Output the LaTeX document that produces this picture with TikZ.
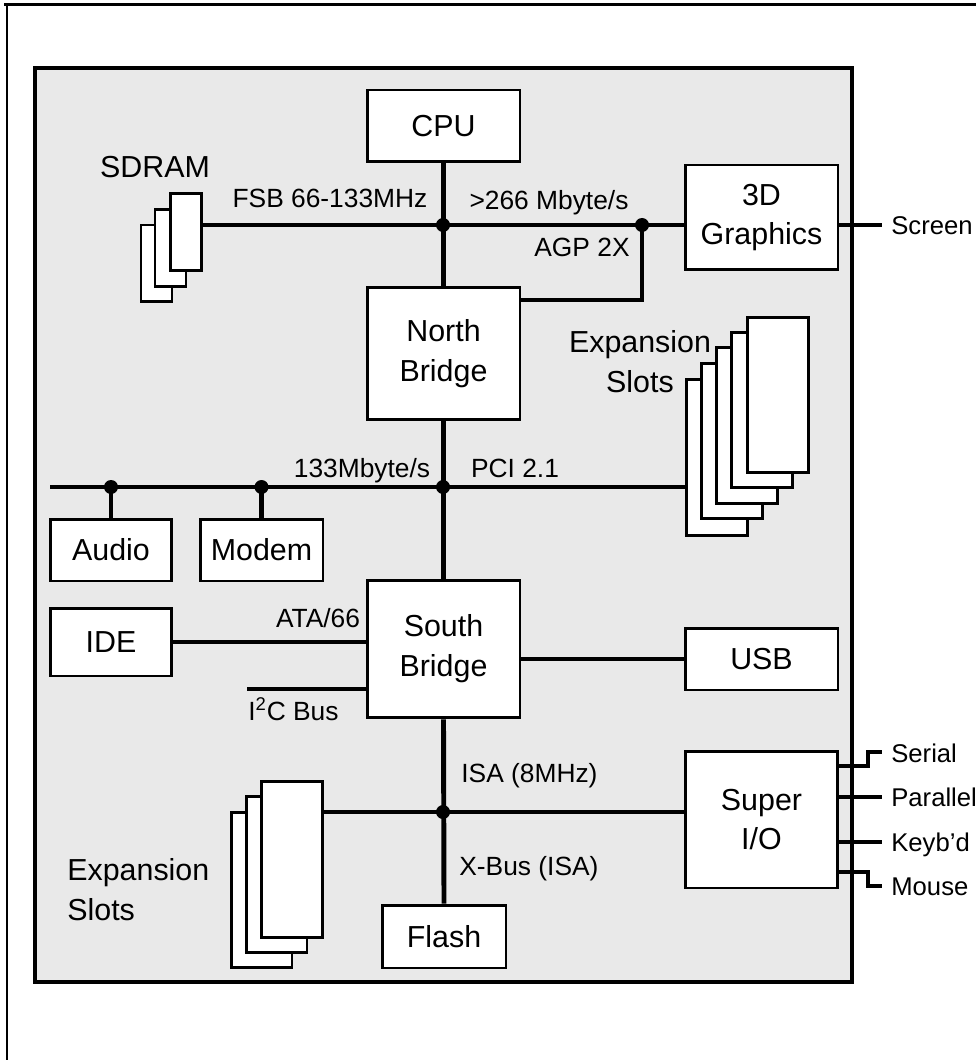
\documentclass[tikz,border=0pt]{standalone}
\usepackage{fontspec}
\setmainfont{Liberation Sans}
\newcommand\bigtxt{\fontsize{17.3}{22.7}\selectfont}
\newcommand\lbltxt{\fontsize{15}{19}\selectfont}
\newcommand\porttxt{\fontsize{14.6}{19}\selectfont}
\definecolor{boardgray}{HTML}{E9E9E9}
\begin{document}
\begin{tikzpicture}[x=0.02cm,y=-0.02cm,
  box/.style={draw, fill=white, line width=1.7pt, inner sep=0pt, font=\bigtxt, align=center},
  sdcard/.style={draw, fill=white, line width=1.7pt, inner sep=0pt, minimum width=0.62cm, minimum height=1.54cm},
  excard/.style={draw, fill=white, line width=1.7pt, inner sep=0pt, minimum width=1.22cm, minimum height=3.11cm},
  bus/.style={line width=2.8pt, line join=miter},
  lbl/.style={font=\lbltxt, inner sep=0pt},
  portlbl/.style={font=\porttxt, inner sep=0pt, anchor=base west},
  biglbl/.style={font=\bigtxt, inner sep=0pt},
  dotmark/.style={fill=black}
]
\useasboundingbox (0,0) rectangle (976,1060);
% outer frame
\draw[line width=1.7pt] (4,5) -- (976,5);
\draw[line width=0.6pt] (7,5) -- (7,1060);
% board
\draw[fill=boardgray, line width=2.6pt] (35,68) rectangle (852,982);

% coordinates
\coordinate (j1) at (443,225);
\coordinate (j2) at (642,225);
\coordinate (agp) at (642,300);
\coordinate (scr) at (882,225);
\coordinate (pL) at (50,487);
\coordinate (pJ) at (443,487);
\coordinate (i2c) at (247,689);
\coordinate (isa) at (443,812);
\coordinate (serA) at (868,766);
\coordinate (serB) at (868,752);
\coordinate (serE) at (882,752);
\coordinate (parE) at (882,797);
\coordinate (keyE) at (882,842);
\coordinate (mouA) at (868,872);
\coordinate (mouB) at (868,886);
\coordinate (mouE) at (882,886);

% SDRAM cards
\node[sdcard] (sd1) at (156.5,263.5) {};
\node[sdcard] (sd2) at (170.5,248) {};
\node[sdcard] (sd3) at (186,232) {};
% top expansion cards
\node[excard] (ex1) at (716.5,457.5) {};
\node[excard] (ex2) at (731.5,441) {};
\node[excard] (ex3) at (746.5,425.5) {};
\node[excard] (ex4) at (761.5,410) {};
\node[excard] (ex5) at (777.5,395) {};
% bottom expansion cards
\node[excard] (bx1) at (261.5,890) {};
\node[excard] (bx2) at (276.5,874.5) {};
\node[excard] (bx3) at (292,859.5) {};

% boxes
\node[box, minimum width=3.06cm, minimum height=1.44cm] (cpu) at (443.5,126) {CPU};
\node[box, minimum width=3.06cm, minimum height=2.66cm] (nb) at (443.5,353.5) {North\\Bridge};
\node[box, minimum width=3.06cm, minimum height=2.10cm] (gfx) at (761.5,217.5) {3D\\Graphics};
\node[box, minimum width=3.06cm, minimum height=2.76cm] (sb) at (443.5,649) {South\\Bridge};
\node[box, minimum width=3.06cm, minimum height=1.24cm] (usb) at (761.5,659) {USB};
\node[box, minimum width=3.04cm, minimum height=2.74cm] (sio) at (761.5,819.5) {Super\\I/O};
\node[box, minimum width=2.44cm, minimum height=1.24cm] (audio) at (111,550) {Audio};
\node[box, minimum width=2.46cm, minimum height=1.24cm] (modem) at (261.5,550) {Modem};
\node[box, minimum width=2.44cm, minimum height=1.36cm] (ide) at (111,642) {IDE};
\node[box, minimum width=2.48cm, minimum height=1.26cm] (flash) at (444,936.5) {Flash};

% connectors
\draw[bus] (cpu.south) -- (nb.north);
\draw[bus] (j1 -| sd3.east) -- (j1) -- (j2) -- (j2 -| gfx.west);
\draw[bus] (j2) -- (agp) -- (agp -| nb.east);
\draw[bus] (j2 -| gfx.east) -- (scr);
\draw[bus] (nb.south) -- (sb.north);
\draw[bus] (pL) -- (pJ) -- (pJ -| ex1.west);
\draw[bus] (audio.north) -- (audio.north |- pL);
\draw[bus] (modem.north) -- (modem.north |- pL);
\draw[bus] (ide.east) -- (ide.east -| sb.west);
\draw[bus] (i2c) -- (i2c -| sb.west);
\draw[bus] (sb.east |- usb.west) -- (usb.west);
\draw[bus] (sb.south) -- (flash.north);
\draw[bus] (isa -| bx3.east) -- (isa) -- (isa -| sio.west);
\draw[bus] (serA -| sio.east) -- (serA) -- (serB) -- (serE);
\draw[bus] (parE -| sio.east) -- (parE);
\draw[bus] (keyE -| sio.east) -- (keyE);
\draw[bus] (mouA -| sio.east) -- (mouA) -- (mouB) -- (mouE);

% junction dots
\fill[dotmark] (j1) circle (0.14cm);
\fill[dotmark] (j2) circle (0.14cm);
\fill[dotmark] (pJ) circle (0.14cm);
\fill[dotmark] (audio.north |- pL) circle (0.14cm);
\fill[dotmark] (modem.north |- pL) circle (0.14cm);
\fill[dotmark] (isa) circle (0.14cm);

% labels
\node[biglbl, anchor=base] (tsdram) at (155,178) {SDRAM};
\node[lbl, anchor=base] (tfsb) at (330,208) {FSB 66-133MHz};
\node[lbl, anchor=base] (t266) at (549,210) {>266 Mbyte/s};
\node[lbl, anchor=base] (tagp) at (582,257) {AGP 2X};
\node[biglbl, align=center, anchor=center] (texp1) at (640,362) {Expansion\\Slots};
\node[lbl, anchor=base] (t133) at (362,477) {133Mbyte/s};
\node[lbl, anchor=base] (tpci) at (515,477) {PCI 2.1};
\node[lbl, anchor=base] (tata) at (318,627) {ATA/66};
\node[lbl, anchor=base west] (ti2c) at (248,720) {I\textsuperscript{2}C Bus};
\node[lbl, anchor=base west] (tisa) at (461,782) {ISA (8MHz)};
\node[lbl, anchor=base west] (txbus) at (459,875) {X-Bus (ISA)};
\node[biglbl, align=left, anchor=west] (texp2) at (67,890) {Expansion\\Slots};
\node[portlbl] (tscr) at (891,235) {Screen};
\node[portlbl] (tser) at (891,762) {Serial};
\node[portlbl] (tpar) at (891,806) {Parallel};
\node[portlbl] (tkey) at (891,851) {Keyb'd};
\node[portlbl] (tmou) at (891,895) {Mouse};
\end{tikzpicture}
\end{document}
